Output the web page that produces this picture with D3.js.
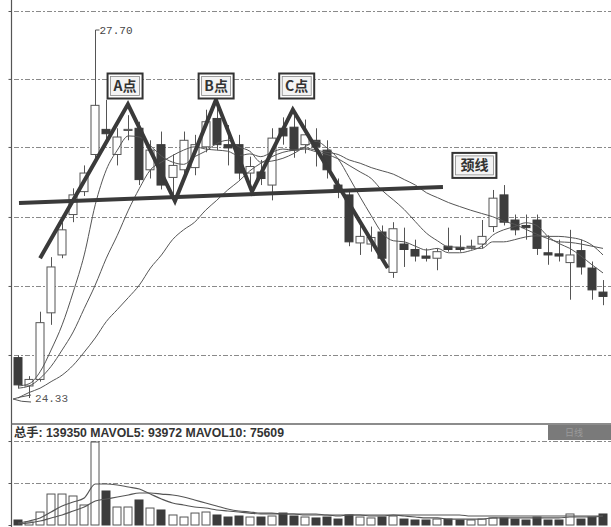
<!DOCTYPE html>
<html><head><meta charset="utf-8">
<script src="https://cdn.jsdelivr.net/npm/d3@7/dist/d3.min.js"></script>
<style>body{margin:0;background:#fff}svg{display:block}</style>
</head><body><svg id="c" width="611" height="527"></svg>
<script>
// ---- data (index 0..53 = trading days) ----
const open  = [24.70,24.44,24.50,25.11,25.64,26.01,26.22,26.56,26.79,26.56,26.78,26.80,26.42,26.65,26.35,26.42,26.44,26.63,26.89,26.65,26.65,26.39,26.40,26.28,26.80,26.81,26.65,26.69,26.60,26.28,26.19,25.75,25.74,25.85,25.48,25.74,25.69,25.63,25.61,25.72,25.71,25.71,25.74,25.90,26.19,25.96,25.91,25.96,25.66,25.65,25.57,25.68,25.52,25.30];
const high  = [24.72,24.53,25.12,25.62,25.94,26.25,26.46,27.70,27.06,26.80,26.92,26.86,26.69,26.77,26.56,26.77,26.74,26.97,27.06,26.83,26.74,26.54,26.51,26.80,26.90,26.92,26.88,26.80,26.69,26.34,26.235,25.91,25.90,25.91,25.94,25.89,25.78,25.70,25.70,25.89,25.82,25.78,25.96,26.235,26.28,26.01,26.01,26.01,25.82,25.78,25.87,25.78,25.58,25.41];
const low   = [24.42,24.33,24.48,25.00,25.61,25.94,26.18,26.51,26.69,26.46,26.69,26.28,26.34,26.24,26.19,26.34,26.37,26.58,26.60,26.46,26.33,26.23,26.28,26.14,26.65,26.53,26.57,26.45,26.34,26.16,25.72,25.64,25.67,25.58,25.43,25.53,25.58,25.58,25.50,25.67,25.67,25.69,25.70,25.85,25.91,25.82,25.78,25.64,25.55,25.58,25.23,25.46,25.23,25.18];
const close = [24.45,24.50,25.02,25.53,25.87,26.19,26.39,27.01,26.75,26.72,26.79,26.33,26.60,26.28,26.46,26.69,26.65,26.86,26.65,26.62,26.39,26.45,26.34,26.71,26.73,26.60,26.74,26.63,26.42,26.22,25.76,25.81,25.80,25.61,25.88,25.69,25.63,25.61,25.67,25.69,25.69,25.72,25.81,26.16,25.94,25.87,25.89,25.70,25.64,25.63,25.64,25.53,25.32,25.26];
const ma5   = [24.44,24.46,24.57,24.77,25.00,25.30,25.64,26.10,26.42,26.60,26.73,26.72,26.64,26.545,26.49,26.47,26.54,26.59,26.66,26.69,26.63,26.59,26.49,26.50,26.525,26.57,26.63,26.68,26.62,26.52,26.35,26.17,26.00,25.84,25.77,25.76,25.72,25.685,25.70,25.66,25.66,25.68,25.72,25.82,25.87,25.90,25.935,25.91,25.81,25.745,25.70,25.63,25.55,25.475];
const ma10  = [24.42,24.44,24.51,24.62,24.77,24.935,25.15,25.365,25.61,25.82,26.05,26.25,26.42,26.49,26.55,26.60,26.63,26.61,26.60,26.59,26.55,26.565,26.54,26.58,26.61,26.60,26.61,26.585,26.56,26.52,26.46,26.40,26.34,26.23,26.145,26.055,25.945,25.84,25.77,25.715,25.71,25.70,25.70,25.76,25.76,25.78,25.805,25.815,25.81,25.81,25.80,25.78,25.73,25.64];
const ma20  = [24.33,24.38,24.42,24.48,24.54,24.63,24.75,24.88,25.03,25.14,25.25,25.365,25.52,25.64,25.78,25.87,25.94,26.05,26.14,26.235,26.315,26.41,26.48,26.54,26.58,26.60,26.62,26.60,26.58,26.56,26.51,26.48,26.44,26.41,26.38,26.33,26.28,26.21,26.165,26.12,26.084,26.05,26.02,25.99,25.95,25.92,25.875,25.83,25.79,25.76,25.755,25.74,25.72,25.70];
const volume = [8400,5000,21800,52000,52000,48700,33600,139350,57100,30200,30200,42000,28500,25200,16800,13400,20100,21800,16800,13400,15100,13400,13400,15100,20100,15100,13400,11800,13400,10000,16800,13400,11800,13400,15100,10000,8400,8400,10000,10000,8400,8400,10000,11800,11800,10000,8400,13400,8400,8400,18500,10000,13400,18500];
const mavol5 = [3400,6700,11800,21800,31900,38600,45300,68800,68800,67200,63800,60400,52000,43700,36900,33600,30200,28500,25200,23500,21800,20100,18500,18500,18500,18500,16800,16800,16800,15100,16800,16800,15100,15100,16800,15100,13400,11800,11800,10000,10000,10000,10000,11800,11800,11800,11800,11800,11800,11800,13400,13400,13400,15100];
const mavol10 = [1700,3400,6700,11800,16800,23500,30200,40300,43700,47000,50400,53700,53700,52000,50400,47000,42000,36900,31900,26900,23500,21800,20100,20100,18500,18500,18500,18500,16800,16800,16800,16800,16800,16800,16800,16800,16800,16800,16800,16800,16800,15100,15100,15100,15100,15100,15100,15100,15100,15100,15100,15100,15100,15100];
const priceTicks = [27.874, 27.252, 26.629, 25.988, 25.356, 24.724];
const volTicks = [70500, 141000];
const highLabel = "27.70", lowLabel = "24.33";
const highIdx = 7, lowIdx = 1;
// hand-drawn pattern (index, price)
const patternIdx   = [2.0, 9.96, 14.22, 17.93, 21.2, 24.9, 33.5];
const patternPrice = [25.61, 27.02, 26.134, 27.06, 26.22, 26.97, 25.52];
const necklineIdx = [0.09, 38.5];
const necklinePrice = [26.116, 26.263];
const peakNames = ["A点","B点","C点"];
const peakIdx = [9.7, 17.95, 25.25];
const necklineName = "颈线";
const necklineLabelIdx = 41.35, necklineLabelPrice = 26.46;
const volText = "总手: 139350 MAVOL5: 93972 MAVOL10: 75609";

// ---- scales ----
const svg = d3.select("#c");
const x = d3.scaleLinear().domain([0, 53]).range([18, 603]);
const y = d3.scaleLinear().domain([24.33, 27.70]).range([398, 30]);
const yv = d3.scaleLinear().domain([0, 139350]).range([525, 442]);
const idx = d3.range(open.length);
const ink = "#3c3c3c", mid = "#555";

// gridlines
svg.append("g").selectAll("line").data(priceTicks).join("line")
  .attr("x1", 14).attr("x2", 611).attr("y1", d => Math.round(y(d)) + .5).attr("y2", d => Math.round(y(d)) + .5)
  .attr("stroke", "#8a8a8a").attr("stroke-dasharray", "5,2,2,2").attr("stroke-width", 1);
svg.append("g").selectAll("line").data(volTicks).join("line")
  .attr("x1", 14).attr("x2", 611).attr("y1", d => Math.round(yv(d)) + .5).attr("y2", d => Math.round(yv(d)) + .5)
  .attr("stroke", "#8a8a8a").attr("stroke-dasharray", "5,2,2,2");
// left axes
const ax = svg.append("g").attr("transform", "translate(11.5,0)")
  .call(d3.axisLeft(y).tickValues(priceTicks).tickSize(3).tickFormat(""));
const axv = svg.append("g").attr("transform", "translate(11.5,0)")
  .call(d3.axisLeft(yv).tickValues(volTicks.concat([0])).tickSize(3).tickFormat(""));
[ax, axv].forEach(g => { g.select(".domain").remove(); g.selectAll("line").attr("stroke", mid); });
svg.append("line").attr("x1", 11.5).attr("x2", 11.5).attr("y1", 0).attr("y2", 527).attr("stroke", mid).attr("stroke-width", 1.2);
// separator between panels
svg.append("line").attr("x1", 11).attr("x2", 611).attr("y1", 424).attr("y2", 424).attr("stroke", "#666").attr("stroke-width", 1.5);
svg.append("rect").attr("x", 548).attr("y", 425).attr("width", 63).attr("height", 15).attr("fill", "#7a7a7a");
svg.append("text").attr("x", 565).attr("y", 436).attr("font-family", "Noto Sans CJK SC").attr("font-size", 9).attr("fill", "#9a9a9a").text("日线");

// candles
const up = i => close[i] >= open[i];
const cw = 9;
const cg = svg.append("g");
cg.selectAll("line.w").data(idx).join("line").attr("class", "w")
  .attr("x1", i => Math.round(x(i)) + .5).attr("x2", i => Math.round(x(i)) + .5)
  .attr("y1", i => y(high[i])).attr("y2", i => y(low[i])).attr("stroke", mid);
cg.selectAll("rect").data(idx).join("rect")
  .attr("x", i => Math.round(x(i)) - (cw - 1) / 2)
  .attr("y", i => y(Math.max(open[i], close[i])))
  .attr("width", cw - 1)
  .attr("height", i => Math.max(1, Math.abs(y(open[i]) - y(close[i]))))
  .attr("fill", i => up(i) ? "#fff" : ink)
  .attr("stroke", i => up(i) ? mid : ink).attr("stroke-width", 1);

// MA lines
const line = d3.line().x((d, i) => x(i)).y(d => y(d)).curve(d3.curveMonotoneX);
[ma5, ma10, ma20].forEach(s => svg.append("path").attr("d", line(s)).attr("fill", "none").attr("stroke", "#555").attr("stroke-width", 1));

// pattern lines
const pl = d3.line().x(d => x(d[0])).y(d => y(d[1]));
svg.append("path").attr("d", pl(necklineIdx.map((d, i) => [d, necklinePrice[i]])))
  .attr("fill", "none").attr("stroke", "#3a3a3a").attr("stroke-width", 4);
svg.append("path").attr("d", pl(patternIdx.map((d, i) => [d, patternPrice[i]])))
  .attr("fill", "none").attr("stroke", "#3a3a3a").attr("stroke-width", 4).attr("stroke-linejoin", "miter");

// label boxes
function box(cx, cy, w, h, t) {
  const g = svg.append("g");
  g.append("rect").attr("x", cx - w / 2).attr("y", cy - h / 2).attr("width", w).attr("height", h)
    .attr("fill", "#fff").attr("stroke", "#333").attr("stroke-width", 2);
  g.append("rect").attr("x", cx - w / 2 + 3).attr("y", cy - h / 2 + 3).attr("width", w - 6).attr("height", h - 6)
    .attr("fill", "#f4f4f4").attr("stroke", "#888").attr("stroke-width", .8);
  g.append("text").attr("x", cx).attr("y", cy + 5).attr("text-anchor", "middle")
    .attr("font-family", "Noto Sans CJK SC").attr("font-weight", "bold").attr("font-size", 14)
    .attr("fill", "#333").text(t);
}
peakNames.forEach((t, k) => box(x(peakIdx[k]), 86, 35, 25, t));
box(x(necklineLabelIdx), y(necklineLabelPrice), 44, 25, necklineName);

// high / low annotations
const hx = Math.round(x(highIdx)) + .5, hy = y(high[highIdx]);
svg.append("path").attr("d", `M${hx},${hy}H${hx + 4}`).attr("stroke", mid);
svg.append("text").attr("x", hx + 4).attr("y", hy + 4).attr("font-family", "Liberation Mono").attr("font-size", 11)
  .attr("fill", "#444").text(highLabel);
const lx = x(lowIdx) - 8, ly = y(low[lowIdx]);
svg.append("path").attr("d", `M${lx + 10},${ly - 3} Q${lx - 2},${ly - 1} ${lx - 8},${ly + 1} Q${lx},${ly + 4} ${lx + 10},${ly + 4}`)
  .attr("fill", "none").attr("stroke", mid);
svg.append("text").attr("x", lx + 14).attr("y", ly + 4).attr("font-family", "Liberation Mono").attr("font-size", 11)
  .attr("fill", "#555").text(lowLabel);

// volume
const vg = svg.append("g");
vg.selectAll("rect").data(idx).join("rect")
  .attr("x", i => Math.round(x(i)) - (cw - 1) / 2)
  .attr("y", i => yv(volume[i]))
  .attr("width", cw - 1)
  .attr("height", i => yv(0) - yv(volume[i]))
  .attr("fill", i => up(i) ? "#fff" : ink)
  .attr("stroke", i => up(i) ? mid : ink);
const vline = d3.line().x((d, i) => x(i)).y(d => yv(d)).curve(d3.curveMonotoneX);
[mavol5, mavol10].forEach(s => svg.append("path").attr("d", vline(s)).attr("fill", "none").attr("stroke", "#555").attr("stroke-width", 1.2));
svg.append("text").attr("x", 14).attr("y", 437).attr("font-family", "Liberation Sans, Noto Sans CJK SC")
  .attr("font-size", 12).attr("font-weight", "bold").attr("fill", "#333").attr("textLength", 270)
  .attr("lengthAdjust", "spacingAndGlyphs").text(volText);
</script></body></html>
